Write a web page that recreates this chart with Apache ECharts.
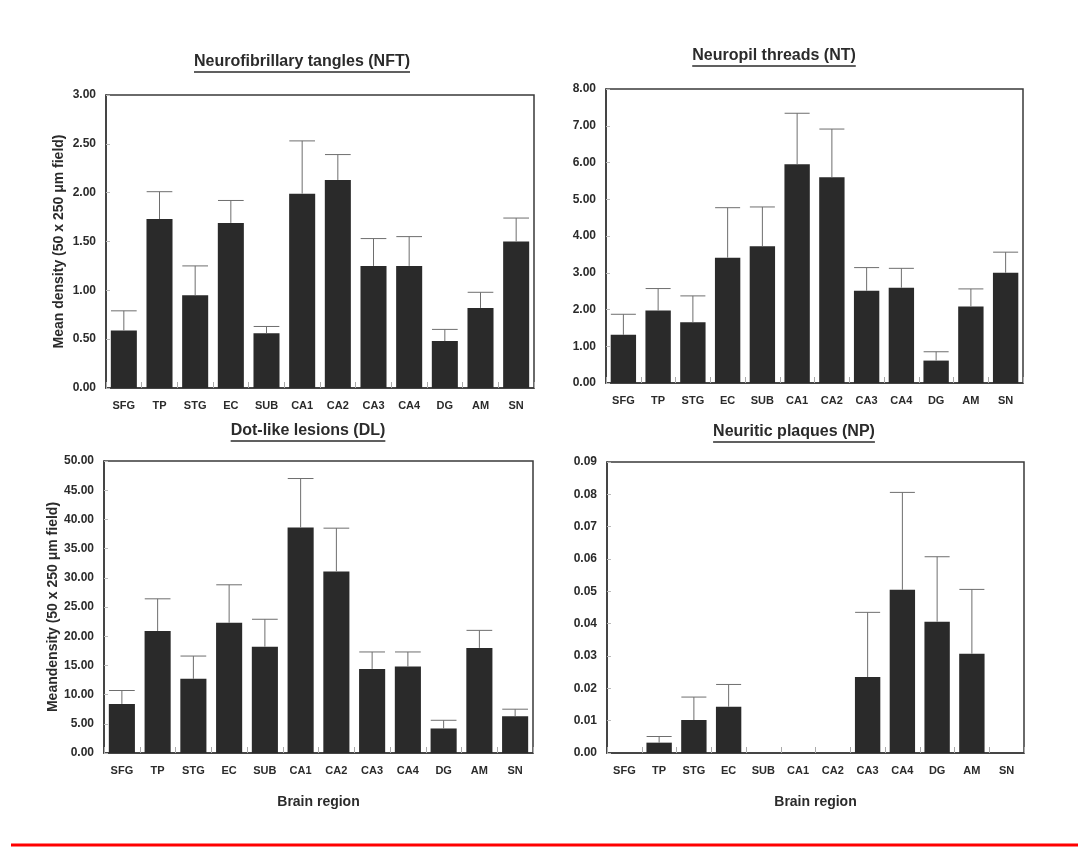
<!DOCTYPE html>
<html>
<head>
<meta charset="utf-8">
<title>Brain region densities</title>
<script src="https://cdn.jsdelivr.net/npm/echarts@6/dist/echarts.min.js"></script>
<style>
html, body { margin: 0; padding: 0; background: #fff; }
#chart { width: 1078px; height: 854px; }
</style>
</head>
<body>
<div id="chart"></div>
<script>
// brain regions (x axis of every panel)
const regions = ['SFG', 'TP', 'STG', 'EC', 'SUB', 'CA1', 'CA2', 'CA3', 'CA4', 'DG', 'AM', 'SN'];

// Neurofibrillary tangles: mean and top of error bar
const nftMean = [0.59, 1.73, 0.95, 1.69, 0.56, 1.99, 2.13, 1.25, 1.25, 0.48, 0.82, 1.50];
const nftUpper = [0.79, 2.01, 1.25, 1.92, 0.63, 2.53, 2.39, 1.53, 1.55, 0.60, 0.98, 1.74];

// Neuropil threads
const ntMean = [1.31, 1.97, 1.65, 3.41, 3.72, 5.95, 5.60, 2.51, 2.59, 0.61, 2.08, 3.00];
const ntUpper = [1.87, 2.57, 2.37, 4.77, 4.79, 7.34, 6.91, 3.14, 3.12, 0.85, 2.56, 3.56];

// Dot-like lesions
const dlMean = [8.4, 20.9, 12.7, 22.3, 18.2, 38.6, 31.1, 14.4, 14.8, 4.2, 18.0, 6.3];
const dlUpper = [10.7, 26.4, 16.6, 28.8, 22.9, 47.0, 38.5, 17.3, 17.3, 5.6, 21.0, 7.5];

// Neuritic plaques
const npMean = [0, 0.0032, 0.0102, 0.0143, 0, 0, 0, 0.0235, 0.0505, 0.0406, 0.0307, 0];
const npUpper = [null, 0.0051, 0.0173, 0.0212, null, null, null, 0.0435, 0.0806, 0.0607, 0.0506, null];

const font = '"Liberation Sans", Arial, sans-serif';
const ink = '#2b2b2b';
const barColor = '#2a2a2a';

const panels = [
	{ title: 'Neurofibrillary tangles (NFT)', mean: nftMean, upper: nftUpper, max: 3, step: 0.5,
		yName: 'Mean density (50 x 250 \u03bcm field)', xName: '',
		grid: { left: 106, right: 544, top: 95, bottom: 466 }, tx: 302, ty: 63 },
	{ title: 'Neuropil threads (NT)', mean: ntMean, upper: ntUpper, max: 8, step: 1,
		yName: '', xName: '',
		grid: { left: 606, right: 55, top: 89, bottom: 471 }, tx: 774, ty: 57 },
	{ title: 'Dot-like lesions (DL)', mean: dlMean, upper: dlUpper, max: 50, step: 5,
		yName: 'Meandensity (50 x 250 \u03bcm field)', xName: 'Brain region',
		grid: { left: 104, right: 545, top: 461, bottom: 101 }, tx: 308, ty: 432 },
	{ title: 'Neuritic plaques (NP)', mean: npMean, upper: npUpper, max: 0.09, step: 0.01,
		yName: '', xName: 'Brain region',
		grid: { left: 607, right: 54, top: 462, bottom: 101 }, tx: 794, ty: 433 }
];

// measure title width for the underline
const titleFont = 'bold 16px ' + font;
const ctx = document.createElement('canvas').getContext('2d');
ctx.font = titleFont;

function errorBar(params, api) {
	if (api.value(2) == null || isNaN(api.value(2))) return;
	const i = api.value(0);
	const base = api.coord([i, api.value(1)]);
	const top = api.coord([i, api.value(2)]);
	const half = api.size([1, 0])[0] * 0.36;
	const st = { stroke: '#6e6e6e', lineWidth: 1 };
	return {
		type: 'group',
		children: [
			{ type: 'line', shape: { x1: base[0], y1: base[1], x2: top[0], y2: top[1] }, style: st },
			{ type: 'line', shape: { x1: top[0] - half, y1: top[1], x2: top[0] + half, y2: top[1] }, style: st }
		]
	};
}

const grids = [], xAxes = [], yAxes = [], series = [], graphics = [];

panels.forEach((p, k) => {
	grids.push(Object.assign({ show: true, borderColor: '#3a3a3a', borderWidth: 1.5, backgroundColor: 'transparent' }, p.grid));
	xAxes.push({
		type: 'category', gridIndex: k, data: regions,
		name: p.xName, nameLocation: 'middle', nameGap: 42,
		nameTextStyle: { fontFamily: font, fontWeight: 'bold', fontSize: 14, color: ink },
		axisLine: { show: true, lineStyle: { color: '#3a3a3a', width: 1.5 } },
		axisTick: { show: true, inside: true, length: 6, lineStyle: { color: '#aaa' } },
		axisLabel: { fontFamily: font, fontWeight: 'bold', fontSize: 11, color: ink, margin: 12 }
	});
	yAxes.push({
		type: 'value', gridIndex: k, min: 0, max: p.max, interval: p.step,
		name: p.yName, nameLocation: 'middle', nameGap: 40,
		nameTextStyle: { fontFamily: font, fontWeight: 'bold', fontSize: 14, color: ink },
		splitLine: { show: false },
		axisLine: { show: true, lineStyle: { color: '#3a3a3a', width: 1.5 } },
		axisTick: { show: true, inside: true, length: 4, lineStyle: { color: '#bbb' } },
		axisLabel: {
			fontFamily: font, fontWeight: 'bold', fontSize: 12, color: ink, margin: 10,
			formatter: v => v.toFixed(2)
		}
	});
	series.push({
		type: 'bar', xAxisIndex: k, yAxisIndex: k, data: p.mean,
		barWidth: '73%', itemStyle: { color: barColor }, silent: true
	});
	series.push({
		type: 'custom', xAxisIndex: k, yAxisIndex: k, renderItem: errorBar, z: 3, silent: true,
		data: p.mean.map((m, i) => [i, m, p.upper[i]])
	});

	const w = ctx.measureText(p.title).width;
	graphics.push({
		type: 'text', left: p.tx - w / 2, top: p.ty - 9,
		style: { text: p.title, font: titleFont, fill: ink }
	});
	graphics.push({
		type: 'line', shape: { x1: p.tx - w / 2, y1: p.ty + 9, x2: p.tx + w / 2, y2: p.ty + 9 },
		style: { stroke: ink, lineWidth: 1.3 }
	});
});

// red rule at the bottom of the page
graphics.push({
	type: 'line', shape: { x1: 11, y1: 845, x2: 1078, y2: 845 },
	style: { stroke: '#ff0000', lineWidth: 3 }
});

const chart = echarts.init(document.getElementById('chart'), null, { renderer: 'canvas' });
chart.setOption({
	backgroundColor: '#fff',
	animation: false,
	grid: grids,
	xAxis: xAxes,
	yAxis: yAxes,
	series: series,
	graphic: graphics
});
</script>
</body>
</html>
